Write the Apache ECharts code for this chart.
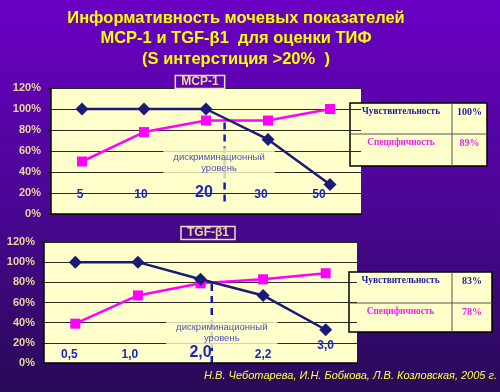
<!DOCTYPE html>
<html><head><meta charset="utf-8">
<script src="https://cdn.jsdelivr.net/npm/echarts@6/dist/echarts.min.js"></script>
<style>html,body{margin:0;padding:0;background:#3a0880;}#c{width:500px;height:392px;}</style>
</head><body><div id="c"></div>
<script>
// ---- data ----
const titleLines = ['Информативность мочевых показателей', 'MCP-1 и TGF-β1  для оценки ТИФ', '(S интерстиция >20%  )'];
const mcpName = 'MCP-1';
const mcpCategories = ['5', '10', '20', '30', '50'];
const mcpSensitivity = [100, 100, 100, 71, 28];
const mcpSpecificity = [50, 78, 89, 89, 100];
const mcpCutoffIndex = 2.3;          // dashed cut-off line, in category index units
const mcpCutoffRange = [12, 91];
const mcpLabelPos = [2.21, 49];
const mcpTable = [['Чувствительность', '100%'], ['Специфичность', '89%']];

const tgfName = 'TGF-β1';
const tgfCategories = ['0,5', '1,0', '2,0', '2,2', '3,0'];
const tgfSensitivity = [100, 100, 83, 67, 33];
const tgfSpecificity = [39, 67, 79, 83, 89];
const tgfCutoffIndex = 2.18;
const tgfCutoffRange = [0, 79];
const tgfLabelPos = [2.34, 30];
const tgfTable = [['Чувствительность', '83%'], ['Специфичность', '78%']];

const yTicks = [0, 20, 40, 60, 80, 100, 120];
const cutoffText = 'дискриминационный\nуровень';
const footer = 'Н.В. Чеботарева, И.Н. Бобкова, Л.В. Козловская, 2005 г.';

// ---- styles ----
const NAVY = '#1a1a78', PINK = '#ff00ff', PLOT = '#ffffcc', CAT = '#1e28b4', YLAB = '#e8d898';
const mcpShift = [2, 3, 2, 7, 11];       // label x shift to the left (px)
const mcpRaise = [0, 0, 0, 0, 0];
const tgfShift = [6, 8, 0, 0, 0];
const tgfRaise = [0, 0, 0, 0, 9];
const bigIndex = 2;

function catAxis(gridIndex, cats, shift, raise, margin) {
  const rich = {};
  cats.forEach((c, i) => {
    rich['s' + i] = {
      fontSize: i === bigIndex ? 16 : 12,
      fontWeight: 'bold',
      fontFamily: 'Arial',
      color: CAT,
      padding: [0, shift[i] * 2, raise[i], 0]
    };
  });
  return {
    type: 'category', gridIndex: gridIndex, data: cats, boundaryGap: true,
    axisLine: { show: true, onZero: false, lineStyle: { color: '#000', width: 1.5 } },
    axisTick: { show: false },
    axisLabel: {
      inside: true, margin: margin, verticalAlign: 'bottom',
      formatter: (v, i) => '{s' + i + '|' + v + '}', rich: rich
    },
    splitLine: { show: false }, z: 5
  };
}
function hiddenX(gridIndex) {
  return { type: 'value', gridIndex: gridIndex, min: -0.5, max: 4.5, show: false,
    axisLine: { show: false, onZero: false }, splitLine: { show: false } };
}
function yAxis(gridIndex, margin) {
  return {
    type: 'value', gridIndex: gridIndex, min: yTicks[0], max: yTicks[yTicks.length - 1], interval: 20,
    axisLine: { show: true, onZero: false, lineStyle: { color: '#000', width: 1.5 } },
    axisTick: { show: true, length: 3, lineStyle: { color: '#000' } },
    axisLabel: { formatter: '{value}%', color: YLAB, fontWeight: 'bold', fontSize: 11, fontFamily: 'Arial', margin: margin },
    splitLine: { show: true, lineStyle: { color: '#2a2a22', width: 1 } }
  };
}
function lineSeries(xi, yi, data, color, symbol, size) {
  return {
    type: 'line', xAxisIndex: xi, yAxisIndex: yi, data: data,
    symbol: symbol, symbolSize: size, showAllSymbol: true,
    lineStyle: { color: color, width: 2.5 }, itemStyle: { color: color },
    z: 3
  };
}
function cutoffSeries(xi, yi, idx, range) {
  return {
    type: 'line', xAxisIndex: xi, yAxisIndex: yi, data: [[idx, range[0]], [idx, range[1]]],
    symbol: 'none', lineStyle: { color: '#1a1ab0', width: 2.5, type: [7, 5] }, z: 2
  };
}
function cutoffLabel(xi, yi, pos) {
  return {
    type: 'scatter', xAxisIndex: xi, yAxisIndex: yi, data: [pos], symbolSize: 0, z: 4,
    label: {
      show: true, position: 'inside', formatter: cutoffText, color: '#1c1caa',
      fontSize: 9.5, lineHeight: 11, fontFamily: 'Arial',
      backgroundColor: PLOT, padding: [4, 10]
    }
  };
}
function table(x, y, w, h, colX, rowY, rows, textDy) {
  const children = [
    { type: 'rect', shape: { x: x, y: y, width: w, height: h }, style: { fill: PLOT, stroke: '#000', lineWidth: 1.5 } },
    { type: 'line', shape: { x1: colX, y1: y, x2: colX, y2: y + h }, style: { stroke: '#555', lineWidth: 1 } },
    { type: 'line', shape: { x1: x, y1: rowY, x2: x + w, y2: rowY }, style: { stroke: '#555', lineWidth: 1 } }
  ];
  const tops = [y, rowY];
  rows.forEach((r, i) => {
    const col = i === 0 ? '#1a1aa8' : '#ee22ee';
    children.push({ type: 'text', style: { text: r[0], x: (x + colX) / 2, y: tops[i] + textDy, textAlign: 'center', textVerticalAlign: 'middle', font: 'bold 9.3px "Liberation Serif"', fill: col } });
    children.push({ type: 'text', style: { text: r[1], x: (colX + x + w) / 2, y: tops[i] + textDy, textAlign: 'center', textVerticalAlign: 'middle', font: 'bold 10px "Liberation Serif"', fill: col } });
  });
  return { type: 'group', children: children, z: 10 };
}
function nameBox(text, cx, cy) {
  return {
    type: 'text', z: 10,
    style: { text: text, x: cx, y: cy, textAlign: 'center', textVerticalAlign: 'middle',
      font: 'bold 12px Arial', fill: YLAB, padding: [1, 6, 0, 6], borderColor: '#e8e0c0', borderWidth: 1.5 }
  };
}

const chart = echarts.init(document.getElementById('c'), null, { renderer: 'canvas' });
chart.setOption({
  animation: false,
  backgroundColor: new echarts.graphic.LinearGradient(0, 0, 0, 1, [
    { offset: 0, color: '#6a00c4' }, { offset: 0.5, color: '#4c0696' }, { offset: 1, color: '#280a56' }
  ]),
  grid: [
    { left: 51, top: 88, right: 139, bottom: 178, show: true, backgroundColor: PLOT, borderWidth: 0 },
    { left: 44, top: 242, right: 143, bottom: 29, show: true, backgroundColor: PLOT, borderWidth: 0 }
  ],
  xAxis: [
    catAxis(0, mcpCategories, mcpShift, mcpRaise, 13),
    catAxis(1, tgfCategories, tgfShift, tgfRaise, 2),
    hiddenX(0), hiddenX(1)
  ],
  yAxis: [yAxis(0, 10), yAxis(1, 9)],
  series: [
    cutoffSeries(2, 0, mcpCutoffIndex, mcpCutoffRange),
    cutoffLabel(2, 0, mcpLabelPos),
    lineSeries(0, 0, mcpSpecificity, PINK, 'rect', 10),
    lineSeries(0, 0, mcpSensitivity, NAVY, 'diamond', 13),
    cutoffSeries(3, 1, tgfCutoffIndex, tgfCutoffRange),
    cutoffLabel(3, 1, tgfLabelPos),
    lineSeries(1, 1, tgfSpecificity, PINK, 'rect', 10),
    lineSeries(1, 1, tgfSensitivity, NAVY, 'diamond', 13)
  ],
  graphic: [
    { type: 'text', z: 10, style: { text: titleLines.join('\n'), x: 236, y: 8, textAlign: 'center',
      font: 'bold 16.5px Arial', lineHeight: 20.5, fill: '#ffff00',
      textShadowColor: '#1a0030', textShadowOffsetX: 1.5, textShadowOffsetY: 1.5, textShadowBlur: 0 } },
    nameBox(mcpName, 200, 82),
    nameBox(tgfName, 208, 233),
    table(350, 103, 137, 63, 452, 134, mcpTable, 9),
    table(349, 272, 143, 60, 452, 303, tgfTable, 9),
    { type: 'text', z: 10, style: { text: footer, x: 497, y: 376, textAlign: 'right', textVerticalAlign: 'middle',
      font: 'italic 11px Arial', fill: '#ffff40' } }
  ]
});
</script>
</body></html>
